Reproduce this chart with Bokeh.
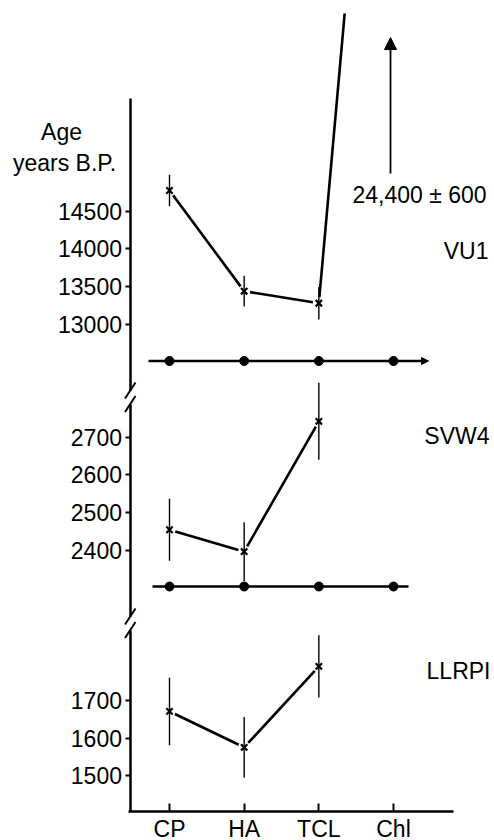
import math
from bokeh.plotting import figure
from bokeh.models import (Range1d, LinearAxis, FixedTicker, ColumnDataSource, Label,
                          Arrow, NormalHead)
from bokeh.embed import file_html
from bokeh.resources import INLINE

# ---------------- data ----------------
categories = ["CP", "HA", "TCL", "Chl"]
cat_x = [0, 1, 2, 3]

vu1_age = [14775, 13438, 13279, 24400]
vu1_err = [210, 204, 215, 600]

svw4_age = [2455, 2397, 2742]
svw4_err = [82, 78, 102]

llrpi_age = [1671, 1575, 1791]
llrpi_err = [90, 81, 83]

vu1_ticks = [13000, 13500, 14000, 14500]
svw4_ticks = [2400, 2500, 2600, 2700]
llrpi_ticks = [1500, 1600, 1700]

panel_names = ["VU1", "SVW4", "LLRPI"]
off_scale_note = "24,400 ± 600"

# ---------------- layout helpers (canvas pixels <-> data units) ----------------
X_ORIGIN_PX, X_STEP_PX = 169.0, 74.67
SCALES = {  # anchor value, its canvas y, pixels per year
    "vu1": (14500, 210.7, 113.0 / 1500),
    "svw4": (2700, 436.7, 113.3 / 300),
    "default": (1700, 700.0, 75.0 / 200),
}
W, H, TOP = 494, 840, 13
LINE_GAP_PX = 6


def xv(px):
    return (px - X_ORIGIN_PX) / X_STEP_PX


def yv(name, py):
    v0, p0, s = SCALES[name]
    return v0 + (p0 - py) / s


def xpx(x):
    return X_ORIGIN_PX + x * X_STEP_PX


def ypx(name, y):
    v0, p0, s = SCALES[name]
    return p0 - (y - v0) * s


FONT = "Liberation Sans"
FS = "23px"
BLACK = "black"

p = figure(width=W, height=H, output_backend="svg", toolbar_location=None,
           title=None, x_axis_location=None, y_axis_location=None,
           x_range=Range1d(xv(0), xv(W)),
           y_range=Range1d(yv("default", H), yv("default", TOP)),
           min_border_left=0, min_border_right=0, min_border_top=TOP, min_border_bottom=0)
p.extra_y_ranges = {
    "vu1": Range1d(yv("vu1", H), yv("vu1", TOP)),
    "svw4": Range1d(yv("svw4", H), yv("svw4", TOP)),
}
p.outline_line_color = None
p.xgrid.visible = False
p.ygrid.visible = False
p.background_fill_color = "white"
p.border_fill_color = "white"


def style_axis(ax):
    ax.axis_line_width = 2.5
    ax.axis_line_color = BLACK
    ax.major_tick_line_width = 2
    ax.major_tick_line_color = BLACK
    ax.minor_tick_out = 0
    ax.minor_tick_in = 0
    ax.major_label_text_font = FONT
    ax.major_label_text_font_size = FS
    ax.major_label_text_color = BLACK


AXIS_X = xv(129.5)
for name, ticks, bottom_px, top_px in [("vu1", vu1_ticks, 390, 98),
                                        ("svw4", svw4_ticks, 616, 403.5),
                                        ("default", llrpi_ticks, 811, 629.5)]:
    ax = LinearAxis(y_range_name=name, fixed_location=AXIS_X,
                    ticker=FixedTicker(ticks=ticks),
                    bounds=(yv(name, bottom_px), yv(name, top_px)))
    style_axis(ax)
    ax.major_tick_out = 5
    ax.major_tick_in = 0
    ax.major_label_standoff = 3
    p.add_layout(ax, "left")

xax = LinearAxis(fixed_location=yv("default", 811), ticker=FixedTicker(ticks=cat_x),
                 major_label_overrides={i: c for i, c in zip(cat_x, categories)},
                 bounds=(xv(128.3), xv(453)))
style_axis(xax)
xax.major_tick_in = 8
xax.major_tick_out = 0
xax.major_label_standoff = 4
p.add_layout(xax, "below")

# axis breaks
for name, c1, c2 in [("vu1", 390, 403.5), ("svw4", 616, 629.5)]:
    p.segment(x0=[xv(124.5)] * 2, y0=[yv(name, c1 + 8), yv(name, c2 + 8)],
              x1=[xv(135)] * 2, y1=[yv(name, c1 - 8), yv(name, c2 - 8)],
              y_range_name=name, line_color=BLACK, line_width=2)


def series(name, ages, errs):
    n = len(ages)
    xs = cat_x[:n]
    src = ColumnDataSource(dict(x=xs, y=ages,
                                lo=[a - e for a, e in zip(ages, errs)],
                                hi=[a + e for a, e in zip(ages, errs)]))
    # connecting segments, stopping a few pixels short of each point (as drawn)
    x0s, y0s, x1s, y1s = [], [], [], []
    for i in range(n - 1):
        ax_, ay_ = xpx(xs[i]), ypx(name, ages[i])
        bx_, by_ = xpx(xs[i + 1]), ypx(name, ages[i + 1])
        d = math.hypot(bx_ - ax_, by_ - ay_)
        f = LINE_GAP_PX / d
        x0s.append(xs[i] + f * (xs[i + 1] - xs[i]))
        y0s.append(ages[i] + f * (ages[i + 1] - ages[i]))
        x1s.append(xs[i + 1] - f * (xs[i + 1] - xs[i]))
        y1s.append(ages[i + 1] - f * (ages[i + 1] - ages[i]))
    p.segment(x0=x0s, y0=y0s, x1=x1s, y1=y1s, y_range_name=name,
              line_color=BLACK, line_width=2.6)
    p.segment(x0="x", y0="lo", x1="x", y1="hi", source=src, y_range_name=name,
              line_color=BLACK, line_width=1.4)
    p.scatter("x", "y", source=src, y_range_name=name, marker="x", size=9,
              line_color=BLACK, line_width=2.2)


series("vu1", vu1_age, vu1_err)
series("svw4", svw4_age, svw4_err)
series("default", llrpi_age, llrpi_err)

# baselines with dots
for name, base_px, x_from, x_to, arrow in [("vu1", 360.5, 148, 428, True),
                                           ("svw4", 586.0, 152, 408, False)]:
    by = yv(name, base_px)
    if arrow:
        p.add_layout(Arrow(x_start=xv(x_from), y_start=by, x_end=xv(x_to), y_end=by,
                           y_range_name=name, line_color=BLACK, line_width=2.4,
                           end=NormalHead(size=7, line_color=BLACK, fill_color=BLACK,
                                          line_width=1)))
    else:
        p.line([xv(x_from), xv(x_to)], [by, by], y_range_name=name,
               line_color=BLACK, line_width=2.4)
    p.scatter(cat_x, [by] * len(cat_x), y_range_name=name, marker="circle", size=9,
              fill_color=BLACK, line_color=BLACK)

# off-scale arrow and its note
p.add_layout(Arrow(x_start=xv(390), y_start=yv("vu1", 173), x_end=xv(390),
                   y_end=yv("vu1", 37), y_range_name="vu1", line_color=BLACK,
                   line_width=1.8,
                   end=NormalHead(size=12, line_color=BLACK, fill_color=BLACK,
                                  line_width=1)))


def label(text, x_px, y_px, name, align):
    p.add_layout(Label(x=xv(x_px), y=yv(name, y_px), text=text, y_range_name=name,
                       text_align=align, text_baseline="middle", text_font=FONT,
                       text_font_size=FS, text_color=BLACK))


label(off_scale_note, 352, 194.5, "vu1", "left")
label(panel_names[0], 488, 250, "vu1", "right")
label(panel_names[1], 489, 435, "svw4", "right")
label(panel_names[2], 490, 670, "default", "right")
label("Age", 61, 131.5, "vu1", "center")
label("years B.P.", 64, 162.5, "vu1", "center")

open("out.html", "w").write(file_html(p, INLINE))
